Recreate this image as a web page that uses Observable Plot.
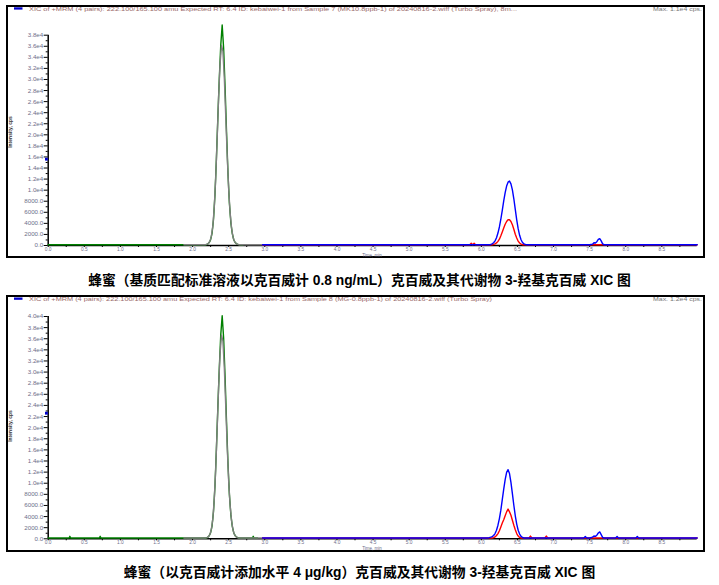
<!DOCTYPE html>
<html><head><meta charset="utf-8">
<script src="https://cdn.jsdelivr.net/npm/d3@7"></script>
<script src="https://cdn.jsdelivr.net/npm/@observablehq/plot@0.6"></script>
<style>
body{margin:0;background:#fff;}
#root{position:relative;width:719px;height:585px;overflow:hidden;background:#fff;font-family:"Liberation Sans",Arial,sans-serif;}
.frame{position:absolute;border:2px solid #000;box-sizing:border-box;}
.plot{position:absolute;left:0;}
.caption{position:absolute;left:0;width:719px;text-align:center;font-weight:bold;font-size:13.8px;line-height:16px;font-family:"Liberation Sans","Noto Sans CJK SC",sans-serif;color:#000;white-space:nowrap;}
</style></head>
<body>
<div id="root">
  <div class="frame" style="left:6px;top:5px;width:699px;height:253px;"></div>
  <div class="frame" style="left:6px;top:295px;width:699px;height:257px;"></div>
  <div id="p1" class="plot" style="top:0px;"></div>
  <div id="p2" class="plot" style="top:290px;"></div>
  <div class="caption" style="top:273px;">蜂蜜（基质匹配标准溶液以克百威计 0.8 ng/mL）克百威及其代谢物 3-羟基克百威 XIC 图</div>
  <div class="caption" style="top:565px;">蜂蜜（以克百威计添加水平 4 μg/kg）克百威及其代谢物 3-羟基克百威 XIC 图</div>
</div>
<script>
// ---- tick labels ----
const xLabels = ["0.0","0.5","1.0","1.5","2.0","2.5","3.0","3.5","4.0","4.5","5.0","5.5","6.0","6.5","7.0","7.5","8.0","8.5"];
const yLabels1 = ["0.0","2000.0","4000.0","6000.0","8000.0","1.0e4","1.2e4","1.4e4","1.6e4","1.8e4","2.0e4","2.2e4","2.4e4","2.6e4","2.8e4","3.0e4","3.2e4","3.4e4","3.6e4","3.8e4"];
const yLabels2 = ["0.0","2000.0","4000.0","6000.0","8000.0","1.0e4","1.2e4","1.4e4","1.6e4","1.8e4","2.0e4","2.2e4","2.4e4","2.6e4","2.8e4","3.0e4","3.2e4","3.4e4","3.6e4","3.8e4","4.0e4"];

// ---- panel 1 (matrix-matched standard 0.8 ng/mL) ----
const green1T = [0.00,0.40,0.80,1.20,1.60,2.00,2.19,2.21,2.23,2.25,2.27,2.29,2.31,2.33,2.35,2.37,2.39,2.41,2.43,2.45,2.47,2.49,2.51,2.53,2.55,2.57,2.59,2.61,2.63,2.65,2.70];
const green1V = [0,0,0,0,0,0,0,120,380,900,2100,4600,9000,15500,23000,30000,36000,39700,35500,28500,20500,13000,7500,4000,2000,900,400,150,50,0,0];
const grey1T = [1.88,2.10,2.18,2.20,2.22,2.24,2.26,2.28,2.30,2.32,2.34,2.36,2.38,2.40,2.42,2.44,2.46,2.48,2.50,2.52,2.54,2.56,2.58,2.60,2.62,2.64,2.80,2.97];
const grey1V = [0,0,0,80,250,650,1500,3300,6700,12000,19000,26500,32500,36000,35000,30000,23000,16000,10000,5800,3000,1400,600,250,80,0,0,0];
const red1T = [2.97,4.00,5.00,5.84,5.86,5.88,5.90,5.92,6.00,6.15,6.17,6.19,6.21,6.23,6.25,6.27,6.29,6.31,6.33,6.35,6.37,6.39,6.41,6.43,6.45,6.47,6.49,6.51,6.53,6.55,6.57,6.70,7.50,8.99];
const red1V = [0,0,0,0,280,0,250,0,0,0,60,150,320,600,1000,1600,2300,3000,3700,4200,4500,4500,4200,3600,2800,1900,1200,650,300,100,0,0,0,0];
const blue1T = [2.97,3.50,4.00,4.50,5.00,5.50,5.90,6.11,6.13,6.15,6.17,6.19,6.21,6.23,6.25,6.27,6.29,6.31,6.33,6.35,6.37,6.39,6.41,6.43,6.45,6.47,6.49,6.51,6.53,6.55,6.57,6.59,6.61,6.63,6.80,7.20,7.50,7.54,7.56,7.58,7.60,7.62,7.64,7.66,7.68,7.70,8.00,8.50,8.99];
const blue1V = [0,0,0,0,0,0,0,0,40,150,350,700,1250,2100,3200,4600,6200,7900,9400,10600,11300,11500,11000,9900,8300,6400,4500,2900,1700,900,400,150,40,0,0,0,0,100,350,300,550,950,1100,700,150,0,0,0,0];
const marker1 = 15600;

// ---- panel 2 (honey spiked at 4 μg/kg) ----
const green2T = [0.00,0.29,0.30,0.31,0.71,0.72,0.73,1.20,1.60,2.00,2.19,2.21,2.23,2.25,2.27,2.29,2.31,2.33,2.35,2.37,2.39,2.41,2.43,2.45,2.47,2.49,2.51,2.53,2.55,2.57,2.59,2.61,2.63,2.65,2.70,2.83,2.84,2.85,2.90];
const green2V = [0,0,300,0,0,300,0,0,0,0,0,130,400,950,2200,4800,9300,16000,23500,30500,36500,40000,36000,29000,21000,13500,7800,4200,2100,950,420,160,50,0,0,0,300,0,0];
const grey2T = [1.88,2.10,2.18,2.20,2.22,2.24,2.26,2.28,2.30,2.32,2.34,2.36,2.38,2.40,2.42,2.44,2.46,2.48,2.50,2.52,2.54,2.56,2.58,2.60,2.62,2.64,2.80,2.97];
const grey2V = [0,0,0,80,260,670,1550,3400,6900,12300,19500,27000,33000,36500,35500,30500,23500,16300,10200,5900,3100,1450,620,260,80,0,0,0];
const red2T = [2.97,4.00,5.00,6.00,6.15,6.17,6.19,6.21,6.23,6.25,6.27,6.29,6.31,6.33,6.35,6.37,6.39,6.41,6.43,6.45,6.47,6.49,6.51,6.53,6.55,6.66,6.68,6.70,6.88,6.90,6.92,7.50,8.99];
const red2V = [0,0,0,0,0,80,200,450,800,1300,2000,2700,3300,4000,4700,5200,4700,4100,3200,2300,1500,800,350,100,0,0,350,0,0,350,0,0,0];
const blue2T = [2.97,3.50,4.00,4.50,5.00,5.50,6.00,6.09,6.11,6.13,6.15,6.17,6.19,6.21,6.23,6.25,6.27,6.29,6.31,6.33,6.35,6.37,6.39,6.41,6.43,6.45,6.47,6.49,6.51,6.53,6.55,6.57,6.59,6.80,7.20,7.42,7.44,7.46,7.50,7.54,7.56,7.58,7.60,7.62,7.64,7.66,7.68,7.70,7.86,7.88,7.90,8.14,8.16,8.18,8.50,8.99];
const blue2V = [0,0,0,0,0,0,0,0,60,150,250,450,800,1400,2300,3500,5000,6900,8800,10500,11800,12300,11600,10000,8000,5900,4000,2500,1400,700,300,100,0,0,0,0,250,0,0,150,350,300,500,900,1100,600,100,0,0,250,0,0,250,0,0,0];
const marker2 = 22600;

const BLUE = "#0000ff", RED = "#ff0000", GREEN = "#008000", GREY = "#808080";
const TXT = "#6e6e8a";

function makePanel(p) {
  const yTicks = p.yLabels.map(Number);
  const yLab = new Map(yTicks.map((v, i) => [v, p.yLabels[i]]));
  const yTop = yTicks[yTicks.length - 1];
  const step = yTicks[1] - yTicks[0];
  const yMinor = yTicks.slice(0, -1).map(v => v + step / 2);
  const xTicks = xLabels.map(Number);
  const xLab = new Map(xTicks.map((v, i) => [v, xLabels[i]]));
  const xMinor = xTicks.map(v => v + 0.25);
  const traces = p.traces.map(tr =>
    Plot.line(tr.t.map((t, i) => ({t, v: tr.v[i]})),
      {x: "t", y: "v", stroke: tr.color, strokeWidth: 1.4, dy: -0.8}));
  const svg = Plot.plot({
    width: 719, height: p.height,
    marginLeft: 47.7, marginRight: 22.3, marginTop: p.mt, marginBottom: p.mb,
    x: {domain: [0, 8.99]},
    y: {domain: [0, yTop]},
    style: {background: "transparent", fontFamily: "Liberation Sans, Arial, sans-serif"},
    marks: [
      Plot.ruleY(yMinor, {y: d => d, x1: 0, x2: 0, insetLeft: -2, stroke: "#000"}),
      Plot.axisY(yTicks, {tickSize: 4, tickPadding: 1, tickFormat: d => yLab.get(d), fontSize: 6.2, fill: TXT, stroke: "#000", label: null}),
      Plot.ruleX(xMinor, {x: d => d, y1: 0, y2: 0, insetBottom: -2, stroke: "#000"}),
      Plot.axisX(xTicks, {tickSize: 2, tickPadding: 0, tickFormat: d => xLab.get(d), fontSize: 4.8, fill: TXT, stroke: "#000", label: null}),
      Plot.ruleY([0], {stroke: "#000", strokeWidth: 1.5}),
      Plot.ruleX([0], {y1: 0, y2: yTop, stroke: "#000", strokeWidth: 1.5}),
      ...traces,
      Plot.dot([p.marker], {x: 0, y: d => d, r: 1.6, symbol: "square", fill: "#0000cc", dx: -1.8})
    ]
  });
  const s = d3.select(svg);
  s.append("rect").attr("x", 14).attr("y", p.rectY).attr("width", 8.5).attr("height", 2.3).attr("fill", "#0000cc");
  s.append("text").attr("x", 29).attr("y", p.hy).attr("text-anchor", "start").attr("font-size", 5.8).attr("fill", "#9a6a6a")
    .attr("textLength", p.headerLen).attr("lengthAdjust", "spacingAndGlyphs").text(p.header);
  s.append("text").attr("x", 653).attr("y", p.hy).attr("text-anchor", "start").attr("font-size", 5.8).attr("fill", "#777")
    .attr("textLength", 49).attr("lengthAdjust", "spacingAndGlyphs").text(p.max);
  s.append("text").attr("transform", `translate(12,${p.ylabY}) rotate(-90)`).attr("text-anchor", "middle")
    .attr("font-size", 5).attr("font-weight", "bold").attr("fill", "#333").text("Intensity, cps");
  s.append("text").attr("x", 372).attr("y", p.timeY).attr("text-anchor", "middle").attr("font-size", 4.5).attr("fill", TXT).text("Time, min");
  return svg;
}

document.getElementById("p1").appendChild(makePanel({
  height: 262, mt: 34.7, mb: 17,
  yLabels: yLabels1, marker: marker1,
  traces: [
    {t: green1T, v: green1V, color: GREEN},
    {t: grey1T, v: grey1V, color: GREY},
    {t: red1T, v: red1V, color: RED},
    {t: blue1T, v: blue1V, color: BLUE}
  ],
  rectY: 7.3, hy: 10.5, headerLen: 488, ylabY: 132, timeY: 256.6,
  header: "XIC of +MRM (4 pairs): 222.100/165.100 amu Expected RT: 6.4 ID: kebaiwei-1 from Sample 7 (MK10.8ppb-1) of 20240816-2.wiff (Turbo Spray), 8m...",
  max: "Max. 1.1e4 cps."
}));

document.getElementById("p2").appendChild(makePanel({
  height: 265, mt: 26, mb: 16.7,
  yLabels: yLabels2, marker: marker2,
  traces: [
    {t: green2T, v: green2V, color: GREEN},
    {t: grey2T, v: grey2V, color: GREY},
    {t: red2T, v: red2V, color: RED},
    {t: blue2T, v: blue2V, color: BLUE}
  ],
  rectY: 7.5, hy: 11.3, headerLen: 463, ylabY: 136, timeY: 260,
  header: "XIC of +MRM (4 pairs): 222.100/165.100 amu Expected RT: 6.4 ID: kebaiwei-1 from Sample 8 (MG-0.8ppb-1) of 20240816-2.wiff (Turbo Spray)",
  max: "Max. 1.2e4 cps."
}));
</script>
</body></html>
